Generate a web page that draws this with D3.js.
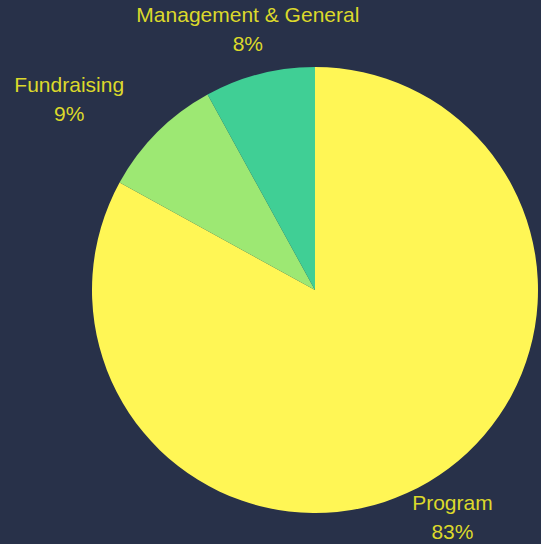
<!DOCTYPE html>
<html><head><meta charset="utf-8">
<script src="https://cdn.jsdelivr.net/npm/d3@7/dist/d3.min.js"></script>
<style>html,body{margin:0;padding:0;background:#283149;}svg{display:block;}</style>
</head><body>
<svg id="chart" width="541" height="544"></svg>
<script>
const categories = ["Program", "Fundraising", "Management & General"];
const values = [83, 9, 8];
const colors = ["#fff655", "#9de873", "#40cf95"];

const W = 541, H = 544;
const cx = 315, cy = 290, R = 223, labelR = 270;
const svg = d3.select("#chart");
svg.append("rect").attr("width", W).attr("height", H).attr("fill", "#283149");

const data = categories.map((c, i) => ({ name: c, value: values[i], color: colors[i] }));
const pie = d3.pie().value(d => d.value).sort(null);
const arcs = pie(data);
const arc = d3.arc().innerRadius(0).outerRadius(R);
const g = svg.append("g").attr("transform", `translate(${cx},${cy})`);
g.selectAll("path").data(arcs).join("path")
  .attr("d", arc).attr("fill", d => d.data.color);

const fs = 21, lh = 29;
const lab = g.selectAll("g.lab").data(arcs).join("g").attr("class", "lab");
lab.each(function(d) {
  const a = (d.startAngle + d.endAngle) / 2;
  const x = labelR * Math.sin(a);
  let y = -labelR * Math.cos(a);
  const sel = d3.select(this);
  const t = sel.append("text")
    .attr("font-family", "'Liberation Sans', Arial, sans-serif")
    .attr("font-size", fs).attr("fill", "#dcd92b").attr("text-anchor", "middle");
  t.append("tspan").attr("x", 0).attr("y", -lh / 2 + fs * 0.36).text(d.data.name);
  t.append("tspan").attr("x", 0).attr("y", lh / 2 + fs * 0.36).text(d.data.value + "%");
  const bb = t.node().getBBox();
  let dx = x;
  if (Math.sin(a) < -0.6) dx = x - bb.width / 2;
  else if (Math.sin(a) > 0.6) dx = x + bb.width / 2;
  const maxBottom = H - cy - 1;
  if (y + bb.y + bb.height > maxBottom) y = maxBottom - bb.y - bb.height;
  sel.attr("transform", `translate(${dx},${y})`);
});
</script>
</body></html>
